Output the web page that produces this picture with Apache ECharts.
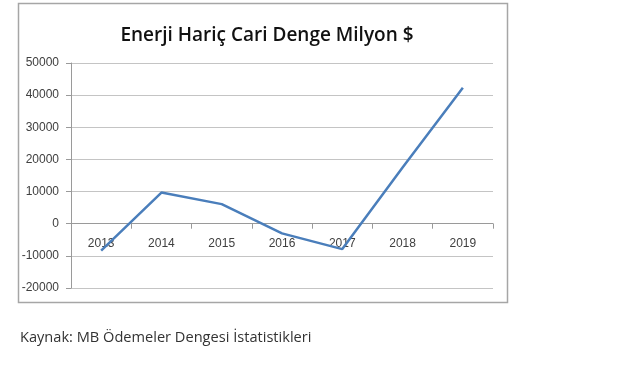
<!DOCTYPE html>
<html><head><meta charset="utf-8">
<script src="https://cdn.jsdelivr.net/npm/echarts@6/dist/echarts.min.js"></script>
<style>html,body{margin:0;padding:0;background:#fff}#c{width:630px;height:372px}</style>
</head><body><div id="c"></div>
<script>
const categories = ['2013','2014','2015','2016','2017','2018','2019'];
const values = [-8400, 9700, 6100, -3000, -7900, 17500, 42300];
const yTicks = [-20000, 50000, 10000];
const titleText = 'Enerji Hariç Cari Denge Milyon $';
const sourceText = 'Kaynak: MB Ödemeler Dengesi İstatistikleri';

const chart = echarts.init(document.getElementById('c'), null, {renderer:'canvas'});
chart.setOption({
  animation:false,
  backgroundColor:'#fff',
  title:{text:titleText,left:262,top:21,textAlign:'center',
    textStyle:{fontFamily:'Open Sans',fontSize:19,fontWeight:'600',color:'#111'}},
  graphic:[
    {type:'rect',shape:{x:18.5,y:3.5,width:489,height:299},style:{fill:'none',stroke:'#a6a6a6',lineWidth:1.5}},
    {type:'text',left:20,top:330,style:{text:sourceText,fontFamily:'Open Sans',fontSize:14.6,fill:'#333'}}
  ],
  grid:{left:71,right:137,top:63,bottom:84,containLabel:false},
  xAxis:{type:'category',data:categories,boundaryGap:true,
    axisLine:{onZero:true,lineStyle:{color:'#9a9a9a',width:1}},
    axisTick:{show:true,length:5,inside:false,lineStyle:{color:'#9a9a9a'}},
    axisLabel:{margin:-50,fontFamily:'Liberation Sans Narrow, Liberation Sans',fontSize:12,color:'#404040'},
    splitLine:{show:false}},
  yAxis:{type:'value',min:yTicks[0],max:yTicks[1],interval:yTicks[2],
    axisLine:{show:true,lineStyle:{color:'#9a9a9a'}},
    axisTick:{show:true,length:5,lineStyle:{color:'#9a9a9a'}},
    axisLabel:{margin:12,formatter:v=>String(v),fontFamily:'Liberation Sans Narrow, Liberation Sans',fontSize:12,color:'#404040'},
    splitLine:{show:true,lineStyle:{color:'#c4c4c4',width:1}}},
  series:[{type:'line',data:values,showSymbol:false,symbol:'none',z:5,
    lineStyle:{color:'#4a7ebb',width:2.5}}]
});
</script></body></html>
